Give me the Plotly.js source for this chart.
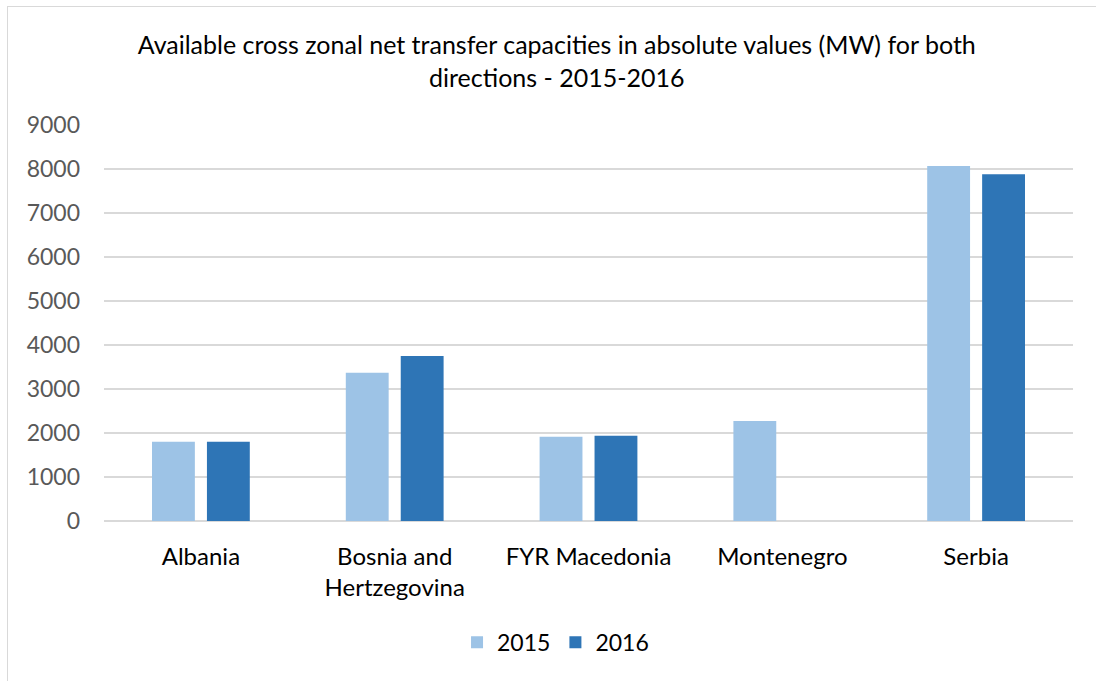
<!DOCTYPE html>
<html>
<head>
<meta charset="utf-8">
<script src="https://cdn.plot.ly/plotly-3.0.1.min.js"></script>
<style>
  html, body { margin: 0; padding: 0; background: #fff; overflow: hidden; }
  #wrap { position: relative; width: 1096px; height: 681px; }
  #chart { position: absolute; left: 0; top: 0; width: 1096px; height: 681px; }
  #frame { position: absolute; left: 7px; top: 6px; width: 1200px; height: 800px;
           border-top: 1.5px solid #d9d9d9; border-left: 1.5px solid #d9d9d9; pointer-events: none; }
</style>
</head>
<body>
<div id="wrap">
  <div id="chart"></div>
  <div id="frame"></div>
</div>
<script>
const categories = ["Albania", "Bosnia and Hertzegovina", "FYR Macedonia", "Montenegro", "Serbia"];
const categoryLabels = ["Albania", "Bosnia and<br>Hertzegovina", "FYR Macedonia", "Montenegro", "Serbia"];
const values2015 = [1800, 3370, 1915, 2275, 8070];
const values2016 = [1800, 3750, 1940, null, 7880];
const yTicks = [0, 1000, 2000, 3000, 4000, 5000, 6000, 7000, 8000, 9000];

const font = "Lato, 'Liberation Sans', Arial, sans-serif";

const traces = [
  { type: "bar", name: "2015", x: categories, y: values2015,
    marker: { color: "#9dc3e6" } },
  { type: "bar", name: "2016", x: categories, y: values2016,
    marker: { color: "#2e75b6" } }
];

const layout = {
  width: 1096, height: 681,
  paper_bgcolor: "#ffffff", plot_bgcolor: "#ffffff",
  margin: { l: 104, r: 23, t: 125, b: 160, autoexpand: false },
  font: { family: font, color: "#000000" },
  title: {
    text: "Available cross zonal net transfer capacities in absolute values (MW) for both<br>directions - 2015-2016",
    font: { family: font, size: 25, color: "#000000" },
    x: 0.508, xanchor: "center", y: 0.920, yanchor: "middle"
  },
  barmode: "group",
  bargap: 0.433,
  bargroupgap: 0.22,
  xaxis: {
    type: "category", automargin: false,
    tickvals: categories, ticktext: categoryLabels,
    showgrid: false, showline: false, zeroline: false, ticks: "",
    tickfont: { family: font, size: 24, color: "#000000" },
    ticklabelstandoff: 19
  },
  yaxis: {
    range: [0, 9000], automargin: false,
    tickvals: yTicks,
    showgrid: true, gridcolor: "#d9d9d9", gridwidth: 1.5,
    zeroline: true, zerolinecolor: "#d9d9d9", zerolinewidth: 1.5,
    showline: false, ticks: "",
    tickfont: { family: font, size: 23, color: "#595959" },
    ticklabelstandoff: 23
  },
  showlegend: true,
  legend: {
    orientation: "h",
    xref: "container", yref: "container",
    x: 0.417, xanchor: "left",
    y: 0.057, yanchor: "middle",
    font: { family: font, size: 23, color: "#000000" },
    itemwidth: 30
  }
};

Plotly.newPlot("chart", traces, layout, { displayModeBar: false, staticPlot: true });
</script>
</body>
</html>
